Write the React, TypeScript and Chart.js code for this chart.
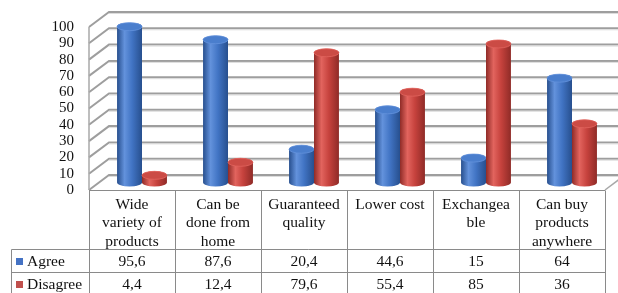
import React, { useEffect, useRef } from "react";
import { Chart, registerables } from "chart.js";

Chart.register(...registerables);

const categories: string[][] = [
  ["Wide", "variety of", "products"],
  ["Can be", "done from", "home"],
  ["Guaranteed", "quality"],
  ["Lower cost"],
  ["Exchangea", "ble"],
  ["Can buy", "products", "anywhere"],
];
const seriesNames = ["Agree", "Disagree"];
const agreeValues = [95.6, 87.6, 20.4, 44.6, 15, 64];
const disagreeValues = [4.4, 12.4, 79.6, 55.4, 85, 36];
const yTickStep = 10;
const yMax = 100;

const FONT = "'Liberation Serif', 'Times New Roman', serif";
const BACK_DX = 20;
const BACK_DY = -15;
const MID_DX = 10;
const MID_DY = -7.5;

const palettes = [
  { dark: "#274f8e", light: "#6392dc", mid: "#4174c4", cap: "#4a7ecd", swatch: "#4472c4" },
  { dark: "#8f2b27", light: "#e2645e", mid: "#c6423d", cap: "#cb4b45", swatch: "#c0504d" },
];

const fmt = (v: number) => String(v).replace(".", ",");

const threeDPlugin = {
  id: "threeD",
  beforeDatasetsDraw(chart: any) {
    const { ctx, chartArea } = chart;
    const y = chart.scales.y;
    const L = chartArea.left;
    const R = chartArea.right;
    ctx.save();
    ctx.lineWidth = 2;
    for (let v = 0; v <= yMax; v += yTickStep) {
      const yf = y.getPixelForValue(v);
      ctx.strokeStyle = "#9e9e9e";
      ctx.beginPath();
      ctx.moveTo(L, yf);
      ctx.lineTo(L + BACK_DX, yf + BACK_DY);
      ctx.lineTo(R + BACK_DX, yf + BACK_DY);
      ctx.stroke();
      ctx.strokeStyle = "#dcdcdc";
      ctx.lineWidth = 1;
      ctx.beginPath();
      ctx.moveTo(L + BACK_DX, yf + BACK_DY + 1.5);
      ctx.lineTo(R + BACK_DX, yf + BACK_DY + 1.5);
      ctx.stroke();
      ctx.lineWidth = 2;
    }
    ctx.strokeStyle = "#a8a8a8";
    ctx.lineWidth = 1.5;
    ctx.beginPath();
    ctx.moveTo(L, y.getPixelForValue(yMax));
    ctx.lineTo(L, y.getPixelForValue(0));
    ctx.stroke();
    const y0 = y.getPixelForValue(0);
    ctx.beginPath();
    ctx.moveTo(R, y0);
    ctx.lineTo(R + BACK_DX, y0 + BACK_DY);
    ctx.stroke();
    ctx.restore();
  },
  beforeDatasetDraw() {
    return false;
  },
  afterDatasetsDraw(chart: any) {
    const { ctx } = chart;
    ctx.save();
    const n = chart.data.labels.length;
    for (let i = 0; i < n; i++) {
      chart.data.datasets.forEach((_ds: any, di: number) => {
        const meta = chart.getDatasetMeta(di);
        const el = meta.data[i];
        if (!el) return;
        const p = el.getProps(["x", "y", "base", "width"], true);
        const pal = palettes[di];
        const cx = p.x + MID_DX;
        const top = p.y + MID_DY;
        const bot = p.base + MID_DY;
        const rx = p.width / 2;
        const ry = 4;
        const g = ctx.createLinearGradient(cx - rx, 0, cx + rx, 0);
        g.addColorStop(0, pal.dark);
        g.addColorStop(0.3, pal.light);
        g.addColorStop(0.6, pal.mid);
        g.addColorStop(1, pal.dark);
        ctx.fillStyle = g;
        ctx.beginPath();
        ctx.moveTo(cx - rx, top);
        ctx.lineTo(cx - rx, bot);
        ctx.ellipse(cx, bot, rx, ry, 0, Math.PI, 0, true);
        ctx.lineTo(cx + rx, top);
        ctx.ellipse(cx, top, rx, ry, 0, 0, Math.PI, true);
        ctx.closePath();
        ctx.fill();
        ctx.fillStyle = pal.cap;
        ctx.beginPath();
        ctx.ellipse(cx, top, rx, ry, 0, 0, Math.PI * 2);
        ctx.fill();
        ctx.strokeStyle = pal.light;
        ctx.lineWidth = 0.8;
        ctx.stroke();
      });
    }
    ctx.restore();
  },
  afterDraw(chart: any) {
    const { ctx, chartArea } = chart;
    const xs = chart.scales.x;
    const n = chart.data.labels.length;
    const cw = (chartArea.right - chartArea.left) / n;
    const tTop = Math.round(chartArea.bottom) + 0.5;
    const rowH = 23;
    const headH = 59;
    const r1 = tTop + headH;
    const r2 = r1 + rowH;
    const r3 = r2 + rowH;
    const legendLeft = 11.5;
    ctx.save();
    ctx.strokeStyle = "#8a8a8a";
    ctx.lineWidth = 1;
    ctx.beginPath();
    ctx.moveTo(chartArea.left, tTop);
    ctx.lineTo(chartArea.right, tTop);
    [r1, r2, r3].forEach((yy) => {
      ctx.moveTo(legendLeft, yy);
      ctx.lineTo(chartArea.right, yy);
    });
    ctx.moveTo(legendLeft, r1);
    ctx.lineTo(legendLeft, r3);
    for (let i = 0; i <= n; i++) {
      const xx = Math.round(chartArea.left + i * cw) + 0.5;
      ctx.moveTo(xx, tTop);
      ctx.lineTo(xx, r3);
    }
    ctx.stroke();

    ctx.fillStyle = "#111";
    ctx.font = `15.5px ${FONT}`;
    ctx.textAlign = "center";
    ctx.textBaseline = "middle";
    const labels: string[][] = chart.data.labels;
    labels.forEach((lines, i) => {
      const cx = xs.getPixelForValue(i);
      lines.forEach((ln, k) => {
        ctx.fillText(ln, cx, tTop + 14 + k * 18.5);
      });
    });
    chart.data.datasets.forEach((ds: any, di: number) => {
      const yy = r1 + rowH * di + rowH / 2 + 0.5;
      ds.data.forEach((v: number, i: number) => {
        ctx.fillText(fmt(v), xs.getPixelForValue(i), yy);
      });
      ctx.fillStyle = palettes[di].swatch;
      ctx.fillRect(16, yy - 3.5, 7, 7);
      ctx.fillStyle = "#111";
      ctx.textAlign = "left";
      ctx.fillText(ds.label, 27, yy);
      ctx.textAlign = "center";
    });
    ctx.restore();
  },
};

export default function App() {
  const ref = useRef<HTMLCanvasElement | null>(null);
  useEffect(() => {
    if (!ref.current) return;
    const chart = new Chart(ref.current, {
      type: "bar",
      data: {
        labels: categories as any,
        datasets: [
          { label: seriesNames[0], data: agreeValues, backgroundColor: palettes[0].swatch },
          { label: seriesNames[1], data: disagreeValues, backgroundColor: palettes[1].swatch },
        ],
      },
      options: {
        responsive: false,
        animation: false,
        layout: { padding: { left: 10, right: 13, top: 27, bottom: 103 } },
        datasets: { bar: { categoryPercentage: 0.58, barPercentage: 1 } } as any,
        plugins: { legend: { display: false }, tooltip: { enabled: false } },
        scales: {
          x: { display: false },
          y: {
            min: 0,
            max: yMax,
            ticks: {
              stepSize: yTickStep,
              autoSkip: false,
              color: "#111",
              padding: 15,
              font: { family: FONT, size: 15 },
            },
            grid: { display: false, drawTicks: false },
            border: { display: false },
            afterFit: (s: any) => {
              s.width = 79;
            },
          },
        },
      },
      plugins: [threeDPlugin],
    });
    return () => chart.destroy();
  }, []);
  return (
    <div style={{ position: "fixed", left: 0, top: 0, width: 618, height: 293, background: "#fff" }}>
      <canvas ref={ref} width={618} height={293} />
    </div>
  );
}
